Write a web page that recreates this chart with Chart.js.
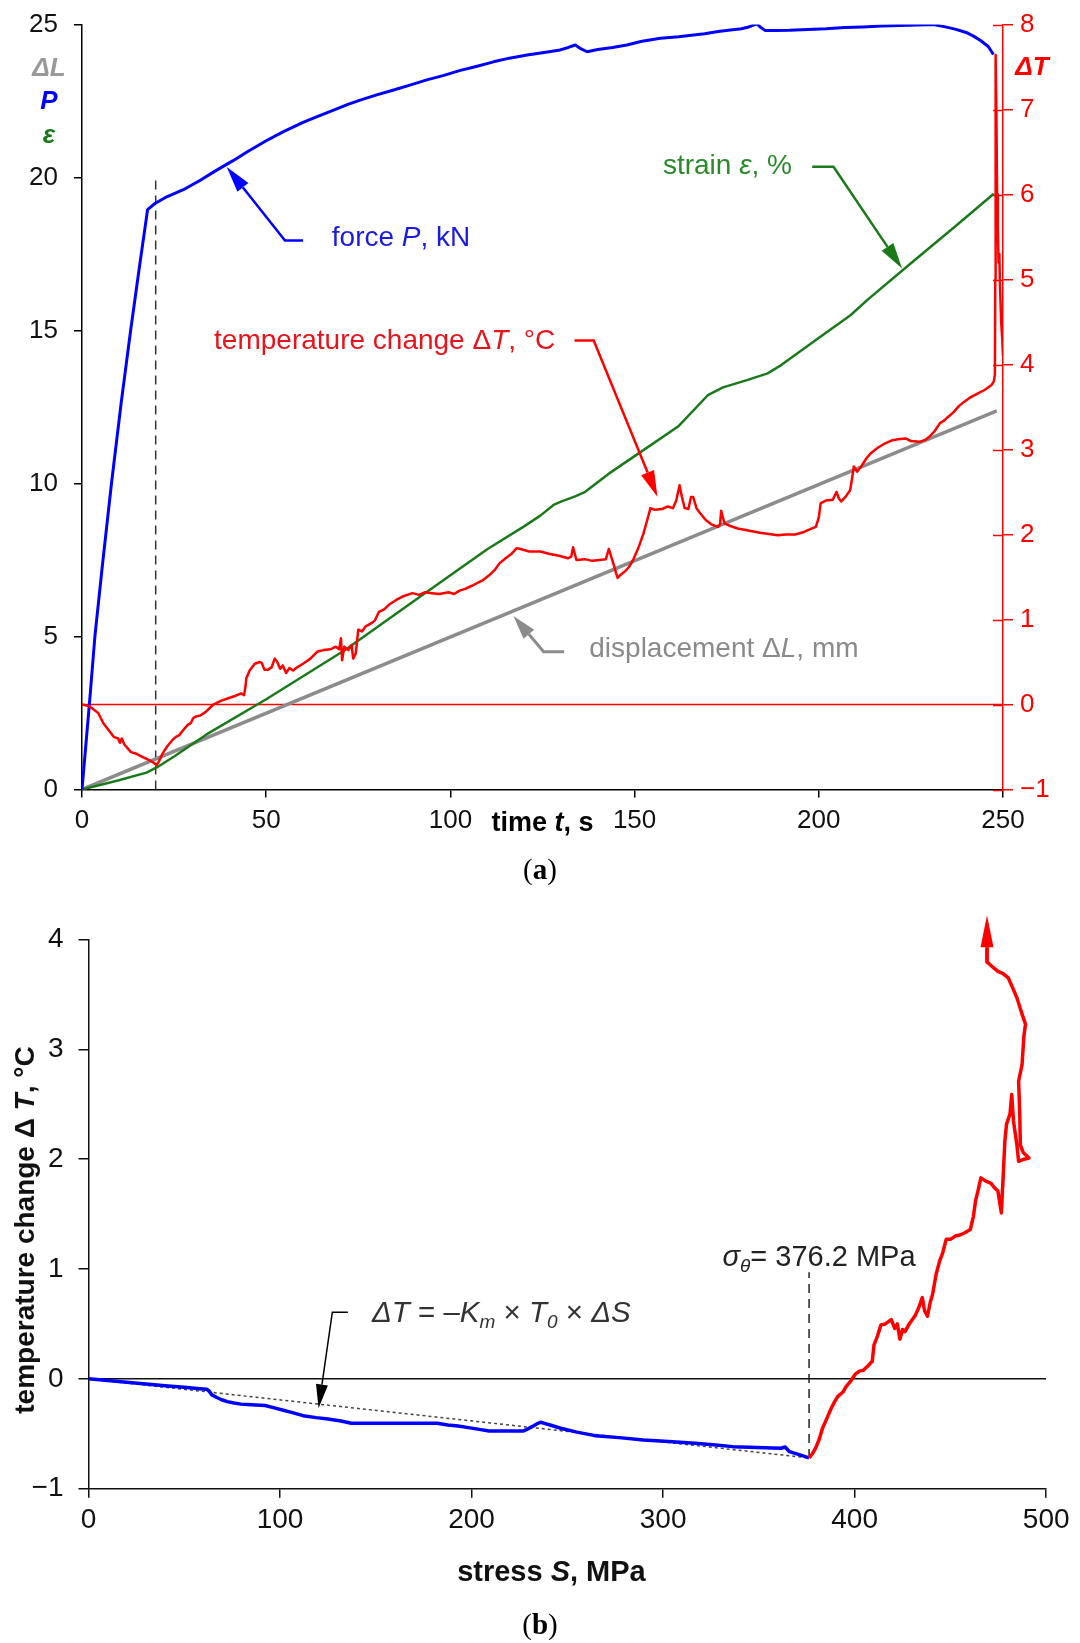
<!DOCTYPE html>
<html><head><meta charset="utf-8">
<script src="https://cdn.jsdelivr.net/npm/chart.js@4.4.1/dist/chart.umd.min.js"></script>
<style>
html,body{margin:0;padding:0;background:#fff;width:1080px;height:1643px;overflow:hidden}
canvas{position:absolute;left:0}
#ca{top:0}
#cb{top:880px}
.cap{position:absolute;left:0;width:1080px;text-align:center;font-family:"Liberation Serif","DejaVu Serif",serif;font-size:29px;color:#000;line-height:32px}
</style></head><body>
<canvas id="ca" width="1080" height="860"></canvas>
<canvas id="cb" width="1080" height="763"></canvas>
<div class="cap" style="top:853px">(<b>a</b>)</div>
<div class="cap" style="top:1608px">(<b>b</b>)</div>
<script>
// ---------------- DATA: chart (a) ----------------
const timeTicksA = [0, 50, 100, 150, 200, 250];
const leftTicksA = [0, 5, 10, 15, 20, 25];
const rightTicksA = [-1, 0, 1, 2, 3, 4, 5, 6, 7, 8];

const timeP = [0,2.0,3.5,5.6,8.0,10.6,13.2,15.5,17.8,19.8,23,27.5,32,36,41,45,50,54.7,60,64,68.3,72,75.5,80,84.6,89,93.6,98,102.7,107,111.7,116,120.8,125,129.8,132,133.9,135.5,137.1,140,144,147.9,152,157,162,166,169,172.7,176,179,181,183.2,184.3,185.5,188,192,197,202,207,212,217,222,227,231,234,237,240,242,244,246,247.4];
const forceP = [0,2.78,5.0,7.4,10.0,12.6,15.0,17.0,18.95,19.15,19.37,19.6,19.9,20.2,20.55,20.85,21.2,21.5,21.8,22.0,22.2,22.38,22.53,22.7,22.86,23.02,23.19,23.33,23.5,23.63,23.78,23.9,24.0,24.08,24.17,24.25,24.33,24.2,24.11,24.18,24.25,24.33,24.45,24.55,24.6,24.66,24.7,24.77,24.82,24.86,24.92,25.02,24.9,24.8,24.8,24.81,24.84,24.86,24.9,24.92,24.95,24.97,24.98,25.0,24.93,24.85,24.74,24.62,24.47,24.28,24.02];

const timeE = [0,10,17.5,20.3,25,33.8,50,71.3,90.6,100,110,120,124.4,128,130,133.7,136.6,143.1,152.4,161.8,170,174,180.5,186.1,189.8,199.2,208.6,213.2,225,237,247.5];
const strainE = [0,0.3,0.55,0.72,1.08,1.8,2.95,4.55,6.2,7.0,7.85,8.6,8.95,9.3,9.41,9.57,9.73,10.33,11.09,11.86,12.9,13.14,13.38,13.6,13.87,14.69,15.5,16.0,17.2,18.4,19.47];

const timeL = [0, 248.3];
const dispL = [0, 12.37];

const timeT = [0,2,4.4,5.8,7.2,8.6,9.8,10.3,10.8,11.5,13.3,14.8,16.1,17.5,18.9,20.3,21,21.7,23,24.5,25.5,26.4,27.5,28.7,29.5,30.2,31,32.1,33.5,35.7,37.5,39.5,41.5,43.2,44,44.4,44.6,45.5,46.9,48.2,48.8,49.5,50.5,51.5,52.3,53,53.8,54.5,55.4,56.3,57.3,58.5,60,62,63.8,65.5,67.5,68.9,69.8,70.3,70.6,71.2,72.3,73.2,73.6,74.3,75,76,77,78.7,79.5,80.6,82,83.5,85.3,87,89.7,91.5,93,95,97,99.5,101,102.5,104,106,108.7,110.5,112,113.3,115,116.5,118,119,121.4,124.4,127,129.5,131.9,132.8,133.3,134.2,136.5,138.5,140.5,142.2,143,143.8,144.5,145,145.4,146.3,147.5,148.5,149.6,151,152.4,153.3,154.3,155.5,157.5,159,160.4,161.3,162.2,162.8,163.6,164.6,165.3,165.9,166.8,167.8,169.3,170.8,172.6,173.2,173.5,174.4,176,178,180.5,184,188.9,191,193.6,196,198,199.2,200,200.5,202,203.8,204.8,205.5,206.1,207.2,208.5,209,209.5,210.4,211.5,213,214.2,216,217.9,220,221.5,223.5,225,227.3,228.8,230,231.5,232.9,234,235,236.6,238,239.4,241,243.2,245,246.9,247.5,247.8,247.9,248,248.2,248.4,248.6,248.8,249,249.2,249.5,249.8,250];
const tempT = [0,-0.02,-0.10,-0.22,-0.30,-0.38,-0.40,-0.45,-0.40,-0.47,-0.56,-0.58,-0.61,-0.64,-0.67,-0.71,-0.66,-0.59,-0.50,-0.42,-0.38,-0.36,-0.30,-0.24,-0.22,-0.16,-0.14,-0.13,-0.09,0.0,0.04,0.07,0.10,0.13,0.11,0.22,0.31,0.40,0.48,0.50,0.49,0.41,0.41,0.44,0.54,0.50,0.42,0.46,0.37,0.43,0.40,0.44,0.48,0.54,0.62,0.64,0.65,0.68,0.65,0.78,0.52,0.68,0.64,0.70,0.54,0.60,0.88,0.86,0.92,0.96,0.99,1.09,1.12,1.18,1.23,1.27,1.31,1.29,1.32,1.31,1.30,1.32,1.30,1.34,1.36,1.40,1.46,1.52,1.58,1.66,1.72,1.77,1.84,1.83,1.80,1.80,1.77,1.75,1.72,1.74,1.85,1.70,1.71,1.69,1.70,1.71,1.83,1.72,1.62,1.54,1.49,1.53,1.57,1.62,1.70,1.84,2.01,2.15,2.31,2.29,2.30,2.33,2.31,2.40,2.58,2.45,2.31,2.30,2.44,2.44,2.31,2.25,2.17,2.12,2.09,2.12,2.28,2.13,2.10,2.07,2.05,2.02,1.99,2.00,2.00,2.03,2.07,2.09,2.20,2.37,2.40,2.41,2.50,2.42,2.39,2.44,2.52,2.65,2.80,2.74,2.80,2.90,2.96,3.02,3.07,3.11,3.12,3.13,3.10,3.09,3.11,3.15,3.22,3.31,3.34,3.38,3.44,3.51,3.56,3.61,3.66,3.70,3.76,3.80,3.88,5.0,7.64,7.0,6.0,5.6,5.2,5.3,4.9,4.5,4.3,4.1];

const zeroTimeA = [0, 250];
const zeroTempA = [0, 0];
const dashTimeA = [20, 20];
const dashValA = [0, 20];

// ---------------- DATA: chart (b) ----------------
const stressTicksB = [0, 100, 200, 300, 400, 500];
const tempTicksB = [-1, 0, 1, 2, 3, 4];

const stressBlue = [0,10,20,30,40,50,58,61.7,63,64.4,67,69.5,72.5,76,79.6,85,92.2,96,101.2,106,112,118.9,125,131.8,137.2,150,165,182.1,187.5,193,198.3,204,209.1,218,227.1,229.5,231.6,234,236,238,241,246.5,255,264.4,277,289.7,303,316.6,326,336.4,349,361.5,363.7,366,371,376.2];
const tempBlue = [0,-0.016,-0.03,-0.047,-0.062,-0.077,-0.09,-0.095,-0.11,-0.146,-0.17,-0.19,-0.207,-0.22,-0.23,-0.235,-0.243,-0.26,-0.283,-0.305,-0.335,-0.353,-0.365,-0.383,-0.404,-0.404,-0.404,-0.404,-0.42,-0.43,-0.444,-0.46,-0.474,-0.474,-0.474,-0.455,-0.435,-0.41,-0.395,-0.405,-0.42,-0.45,-0.485,-0.517,-0.535,-0.556,-0.57,-0.587,-0.6,-0.617,-0.625,-0.632,-0.62,-0.663,-0.69,-0.72];

const stressRed = [376.2,378,379.6,381.5,383.2,385.5,387.7,389.5,391.2,393.9,395.5,397.5,400.2,402.5,404.7,407,409.2,410.1,411.9,413.7,416,419.1,420.9,422.3,423.6,425,426.3,428.5,431.7,433.5,435.3,436.5,438,439.5,440.7,442.5,444.3,446,447.8,450,452.5,455,457.5,460.4,462,463.1,464.5,465.9,468.5,471.2,473,474.8,475.8,476.6,477.5,478.4,479.3,481.1,482,482.9,484.7,485.6,488.5,491,488,486.5,486.2,485.6,487.4,488.3,489.2,487.4,484.7,482.5,480.2,477.5,474.8,472,469.5,469.1];
const tempRed = [-0.72,-0.68,-0.63,-0.55,-0.45,-0.36,-0.27,-0.21,-0.16,-0.12,-0.07,-0.03,0.04,0.07,0.08,0.12,0.16,0.31,0.39,0.49,0.50,0.54,0.46,0.50,0.36,0.45,0.43,0.50,0.58,0.65,0.74,0.62,0.57,0.70,0.77,0.95,1.07,1.15,1.27,1.27,1.30,1.31,1.33,1.36,1.48,1.62,1.72,1.83,1.80,1.78,1.74,1.71,1.60,1.51,1.83,2.16,2.32,2.41,2.59,2.35,2.13,1.98,2.0,2.01,2.06,2.13,2.41,2.71,2.86,3.11,3.23,3.32,3.47,3.56,3.65,3.69,3.71,3.75,3.79,3.93];

const stressTheory = [0, 376.2];
const tempTheory = [0, -0.72];
const zeroStressB = [0, 500];
const zeroTempB = [0, 0];
const sigmaStress = [376.2, 376.2];
const sigmaTemp = [-0.72, 0.97];

// ---------------- helpers ----------------
const FAM = '"Liberation Sans", Arial, Helvetica, sans-serif';
const zip = (xs, ys) => xs.map((x, i) => ({x: x, y: ys[i]}));
const minus = v => (v < 0 ? '\u2212' + Math.abs(v) : '' + v);
function fontStr(size, st) {
  return (st.includes('i') ? 'italic ' : '') + (st.includes('b') ? 'bold ' : '') + size + 'px ' + FAM;
}
function drawRich(ctx, segs, x, y, size, color, align) {
  ctx.save();
  ctx.textBaseline = 'alphabetic';
  ctx.textAlign = 'left';
  let w = 0;
  const items = segs.map(s => {
    const st = s[1] || '';
    const sub = st.includes('s');
    const sz = sub ? Math.round(size * 0.66) : size;
    ctx.font = fontStr(sz, st);
    const m = ctx.measureText(s[0]).width;
    w += m;
    return {t: s[0], st, sz, m, dy: sub ? size * 0.22 : 0, c: s[2]};
  });
  let cx = align === 'right' ? x - w : (align === 'center' ? x - w / 2 : x);
  items.forEach(it => {
    ctx.font = fontStr(it.sz, it.st);
    ctx.fillStyle = it.c || color;
    ctx.fillText(it.t, cx, y + it.dy);
    cx += it.m;
  });
  ctx.restore();
}
function drawArrow(ctx, pts, color, lw, headLen, headW) {
  const n = pts.length;
  const tx = pts[n - 1][0], ty = pts[n - 1][1];
  const px = pts[n - 2][0], py = pts[n - 2][1];
  const a = Math.atan2(ty - py, tx - px);
  const bx = tx - headLen * Math.cos(a), by = ty - headLen * Math.sin(a);
  ctx.save();
  ctx.strokeStyle = color; ctx.fillStyle = color; ctx.lineWidth = lw;
  ctx.lineJoin = 'miter'; ctx.lineCap = 'butt';
  ctx.beginPath();
  ctx.moveTo(pts[0][0], pts[0][1]);
  for (let i = 1; i < n - 1; i++) ctx.lineTo(pts[i][0], pts[i][1]);
  ctx.lineTo(bx, by);
  ctx.stroke();
  ctx.beginPath();
  ctx.moveTo(tx, ty);
  ctx.lineTo(bx + headW / 2 * Math.sin(a), by - headW / 2 * Math.cos(a));
  ctx.lineTo(bx - headW / 2 * Math.sin(a), by + headW / 2 * Math.cos(a));
  ctx.closePath();
  ctx.fill();
  ctx.restore();
}
function lineDs(xs, ys, color, width, axis, order, dash) {
  return {data: zip(xs, ys), showLine: true, borderColor: color, backgroundColor: color,
    borderWidth: width, pointRadius: 0, pointHoverRadius: 0, tension: 0, fill: false,
    yAxisID: axis, order: order, borderDash: dash || [], borderJoinStyle: 'round', borderCapStyle: 'butt'};
}
const fitV = w => s => { s.width = w; s.paddingTop = 0; s.paddingBottom = 0; };
const fitH = h => s => { s.height = h; s.paddingLeft = 0; s.paddingRight = 0; };

const BLUE = '#0000ff', GREEN = '#1a7a1a', RED = '#ff0000', GRAY = '#8c8c8c';

// ---------------- chart (a) ----------------
const annA = {
  id: 'annA',
  afterDraw(chart) {
    const ctx = chart.ctx;
    const x = chart.scales.x, y = chart.scales.y, y2 = chart.scales.y2;
    const P = (t, v) => [x.getPixelForValue(t), y.getPixelForValue(v)];
    ctx.save(); ctx.strokeStyle = RED; ctx.lineWidth = 1.5;
    rightTicksA.forEach(v => {
      const py = Math.round(y2.getPixelForValue(v)) + 0.5;
      ctx.beginPath(); ctx.moveTo(y2.left - 10, py); ctx.lineTo(y2.left, py); ctx.stroke();
    });
    ctx.restore();
    drawArrow(ctx, [P(60.0, 17.94), P(55.1, 17.94), P(39.3, 20.34)], BLUE, 2.5, 26, 14);
    let p = P(67.8, 17.94); drawRich(ctx, [['force '], ['P', 'i'], [', kN']], p[0], p[1] + 5, 28, '#1a1ae0', 'left');
    drawArrow(ctx, [P(198.2, 20.35), P(204.0, 20.35), P(222.6, 17.03)], GREEN, 2.5, 26, 14);
    p = P(192.7, 20.35); drawRich(ctx, [['strain '], ['\u03b5', 'i'], [', %']], p[0], p[1] + 7, 28, '#2a8a2a', 'right');
    drawArrow(ctx, [P(133.7, 14.67), P(138.9, 14.67), P(156.2, 9.57)], RED, 2.5, 26, 14);
    p = P(35.85, 14.67); drawRich(ctx, [['temperature change \u0394'], ['T', 'i'], [', \u00b0C']], p[0], p[1] + 8, 28, '#e8141b', 'left');
    drawArrow(ctx, [P(130.9, 4.50), P(125.3, 4.50), P(117.1, 5.67)], GRAY, 3, 24, 14);
    p = P(137.7, 4.50); drawRich(ctx, [['displacement \u0394'], ['L', 'i'], [', mm']], p[0], p[1] + 5, 28, '#8a8a8a', 'left');
    drawRich(ctx, [['time ', 'b'], ['t', 'bi'], [', s', 'b']], x.getPixelForValue(125), x.top + 8 + 10 + 23, 27, '#000', 'center');
    const lx = chart.chartArea.left - 33;
    drawRich(ctx, [['\u0394L', 'bi']], lx, y.getPixelForValue(23.32), 26, '#999999', 'center');
    drawRich(ctx, [['P', 'bi']], lx, y.getPixelForValue(22.23), 26, '#0000ff', 'center');
    drawRich(ctx, [['\u03b5', 'bi']], lx, y.getPixelForValue(21.14), 26, '#1a7a1a', 'center');
    drawRich(ctx, [['\u0394T', 'bi']], chart.chartArea.right + 29, y2.getPixelForValue(7.41), 26, RED, 'center');
  }
};

new Chart(document.getElementById('ca'), {
  type: 'scatter',
  data: {datasets: [
    lineDs(timeT, tempT, RED, 2.5, 'y2', 1),
    lineDs(timeP, forceP, BLUE, 3, 'y', 2),
    lineDs(timeE, strainE, GREEN, 2.5, 'y', 3),
    lineDs(timeL, dispL, GRAY, 3.5, 'y', 4),
    lineDs(zeroTimeA, zeroTempA, RED, 1.5, 'y2', 5),
    lineDs(dashTimeA, dashValA, '#333333', 1.5, 'y', 6, [9, 6])
  ]},
  options: {
    responsive: false, animation: false, devicePixelRatio: 1, events: [],
    layout: {padding: {top: 24.5, left: 0, right: 0, bottom: 0}},
    plugins: {legend: {display: false}, tooltip: {enabled: false}},
    scales: {
      x: {type: 'linear', position: 'bottom', min: 0, max: 250,
        afterBuildTicks: s => { s.ticks = timeTicksA.map(v => ({value: v})); },
        afterFit: fitH(70.5),
        grid: {drawOnChartArea: false, drawTicks: true, tickLength: 8, color: '#000', lineWidth: 1.5},
        border: {display: true, color: '#000', width: 1.5},
        ticks: {color: '#111', font: {family: FAM, size: 26}, padding: 8, maxRotation: 0}},
      y: {type: 'linear', position: 'left', min: 0, max: 25,
        afterBuildTicks: s => { s.ticks = leftTicksA.map(v => ({value: v})); },
        afterFit: fitV(82),
        grid: {drawOnChartArea: false, drawTicks: true, tickLength: 8, color: '#000', lineWidth: 1.5},
        border: {display: true, color: '#000', width: 1.5},
        ticks: {color: '#111', font: {family: FAM, size: 26}, padding: 16}},
      y2: {type: 'linear', position: 'right', min: -1, max: 8,
        afterBuildTicks: s => { s.ticks = rightTicksA.map(v => ({value: v})); },
        afterFit: fitV(77),
        grid: {drawOnChartArea: false, drawTicks: true, tickLength: 10, color: RED, lineWidth: 1.5},
        border: {display: true, color: RED, width: 1.5},
        ticks: {color: RED, font: {family: FAM, size: 26}, padding: 7, callback: v => minus(v)}}
    }
  },
  plugins: [annA]
});

// ---------------- chart (b) ----------------
const annB = {
  id: 'annB',
  afterDraw(chart) {
    const ctx = chart.ctx;
    const x = chart.scales.x, y = chart.scales.y;
    const P = (s, v) => [x.getPixelForValue(s), y.getPixelForValue(v)];
    drawArrow(ctx, [P(469.1, 3.80), P(469.1, 4.22)], RED, 3.5, 32, 13);
    drawArrow(ctx, [P(135.4, 0.607), P(127.3, 0.607), P(120.1, -0.268)], '#000', 1.5, 24, 12);
    let p = P(148.0, 0.52);
    drawRich(ctx, [['\u0394T', 'i'], [' = '], ['\u2013'], ['K', 'i'], ['m', 'is'], [' \u00d7 '], ['T', 'i'], ['0', 'is'], [' \u00d7 '], ['\u0394S', 'i']], p[0], p[1], 29.5, '#333', 'left');
    p = P(331.0, 1.03);
    drawRich(ctx, [['\u03c3', 'i'], ['\u03b8', 'is'], ['= 376.2 MPa']], p[0], p[1], 29, '#222', 'left');
    drawRich(ctx, [['stress ', 'b'], ['S', 'bi'], [', MPa', 'b']], x.getPixelForValue(241.7), x.top + 92, 29, '#111', 'center');
    ctx.save();
    ctx.translate(34, y.getPixelForValue(1.355));
    ctx.rotate(-Math.PI / 2);
    drawRich(ctx, [['temperature change \u0394 ', 'b'], ['T', 'bi'], [', \u00b0C', 'b']], 0, 0, 28, '#111', 'center');
    ctx.restore();
  }
};

new Chart(document.getElementById('cb'), {
  type: 'scatter',
  data: {datasets: [
    lineDs(stressRed, tempRed, RED, 3.5, 'y', 1),
    lineDs(stressBlue, tempBlue, BLUE, 3.5, 'y', 2),
    lineDs(stressTheory, tempTheory, '#444', 1.5, 'y', 3, [3, 3]),
    lineDs(zeroStressB, zeroTempB, '#111', 1.5, 'y', 4),
    lineDs(sigmaStress, sigmaTemp, '#222', 1.5, 'y', 5, [9, 6])
  ]},
  options: {
    responsive: false, animation: false, devicePixelRatio: 1, events: [],
    layout: {padding: {top: 59.5, left: 0, right: 33.8, bottom: 0}},
    plugins: {legend: {display: false}, tooltip: {enabled: false}},
    scales: {
      x: {type: 'linear', position: 'bottom', min: 0, max: 500,
        afterBuildTicks: s => { s.ticks = stressTicksB.map(v => ({value: v})); },
        afterFit: fitH(154.3),
        grid: {drawOnChartArea: false, drawTicks: true, tickLength: 9, color: '#111', lineWidth: 1.5},
        border: {display: true, color: '#111', width: 1.5},
        ticks: {color: '#111', font: {family: FAM, size: 28}, padding: 6, maxRotation: 0}},
      y: {type: 'linear', position: 'left', min: -1, max: 4,
        afterBuildTicks: s => { s.ticks = tempTicksB.map(v => ({value: v})); },
        afterFit: fitV(88.5),
        grid: {drawOnChartArea: false, drawTicks: true, tickLength: 10, color: '#111', lineWidth: 1.5},
        border: {display: true, color: '#111', width: 1.5},
        ticks: {color: '#111', font: {family: FAM, size: 28}, padding: 15, callback: v => minus(v)}}
    }
  },
  plugins: [annB]
});
</script></body></html>
